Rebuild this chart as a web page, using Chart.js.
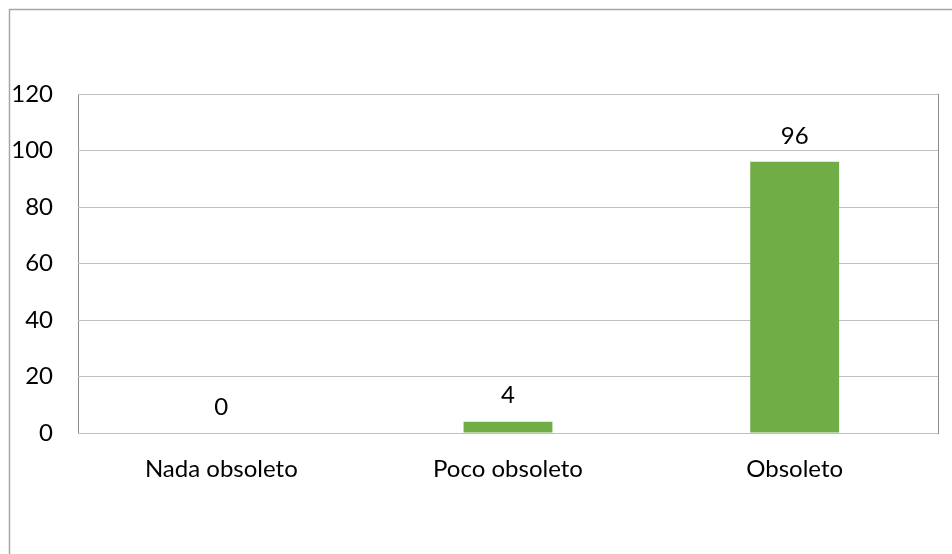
<!DOCTYPE html>
<html>
<head>
<meta charset="utf-8">
<script src="https://cdn.jsdelivr.net/npm/chart.js@4/dist/chart.umd.min.js"></script>
<style>
  html, body { margin: 0; padding: 0; background: #fff; }
  #wrap { width: 952px; height: 554px; position: relative; }
</style>
</head>
<body>
<div id="wrap"><canvas id="obsChart"></canvas></div>
<script>
const categories = ['Nada obsoleto', 'Poco obsoleto', 'Obsoleto'];
const values = [0, 4, 96];
const yTicks = [0, 20, 40, 60, 80, 100, 120];

const fontFamily = 'Lato, "Open Sans", sans-serif';
const fontSize = 24;
const textColor = '#000000';
const lineColor = '#a6a6a6';

// outer frame + plot area box
const framePlugin = {
  id: 'frame',
  beforeDraw(chart) {
    const ctx = chart.ctx;
    const a = chart.chartArea;
    ctx.save();
    ctx.strokeStyle = lineColor;
    ctx.lineWidth = 1.5;
    ctx.beginPath();
    ctx.moveTo(9.5, chart.height);
    ctx.lineTo(9.5, 9.5);
    ctx.lineTo(chart.width, 9.5);
    ctx.stroke();
    ctx.lineWidth = 1;
    ctx.strokeStyle = '#8c8c8c';
    ctx.strokeRect(a.left + 0.5, a.top + 0.5, a.right - a.left, a.bottom - a.top);
    ctx.restore();
  }
};

// value labels above the bars
const valueLabels = {
  id: 'valueLabels',
  afterDatasetsDraw(chart) {
    const ctx = chart.ctx;
    const meta = chart.getDatasetMeta(0);
    ctx.save();
    ctx.font = fontSize + 'px ' + fontFamily;
    ctx.fillStyle = textColor;
    ctx.textAlign = 'center';
    ctx.textBaseline = 'middle';
    meta.data.forEach((bar, i) => {
      ctx.fillText(String(values[i]), bar.x, bar.y - 26);
    });
    ctx.restore();
  }
};

new Chart(document.getElementById('obsChart'), {
  type: 'bar',
  data: {
    labels: categories,
    datasets: [{
      data: values,
      backgroundColor: '#70ad47',
      borderWidth: 0,
      categoryPercentage: 1,
      barPercentage: 0.31
    }]
  },
  options: {
    responsive: true,
    maintainAspectRatio: false,
    animation: false,
    layout: { padding: { top: 94, right: 14, left: 0, bottom: 0 } },
    plugins: {
      legend: { display: false },
      tooltip: { enabled: false }
    },
    scales: {
      x: {
        grid: { display: false, drawTicks: false },
        border: { display: false },
        ticks: {
          color: textColor,
          font: { family: fontFamily, size: fontSize },
          padding: 22,
          maxRotation: 0
        },
        afterFit(scale) { scale.height = 121; }
      },
      y: {
        min: 0,
        max: 120,
        afterBuildTicks(scale) { scale.ticks = yTicks.map(v => ({ value: v })); },
        grid: { color: '#bfbfbf', drawTicks: false },
        border: { display: false },
        ticks: {
          color: textColor,
          font: { family: fontFamily, size: fontSize },
          padding: 25
        },
        afterFit(scale) { scale.width = 78; }
      }
    }
  },
  plugins: [framePlugin, valueLabels]
});
</script>
</body>
</html>
